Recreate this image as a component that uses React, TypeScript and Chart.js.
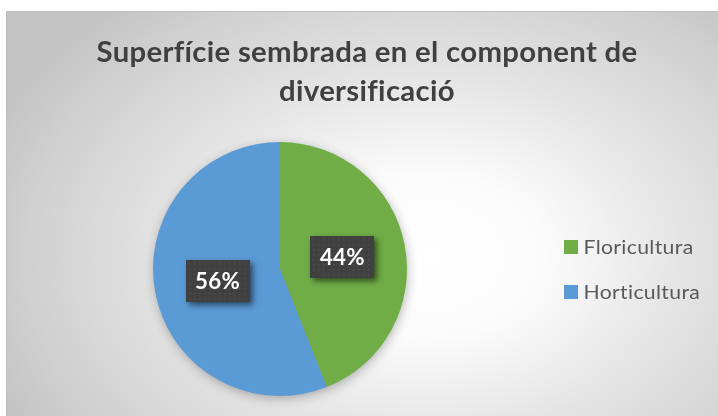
import React, { useEffect, useRef } from 'react';
import { Chart, registerables } from 'chart.js';

Chart.register(...registerables);

const TITLE_LINES = ['Superfície sembrada en el component de', 'diversificació'];
const CATEGORIES = ['Floricultura', 'Horticultura'];
const VALUES = [44, 56];
const COLORS = ['#70AD47', '#5B9BD5'];

const FONT = 'Lato, "Open Sans", "Liberation Sans", sans-serif';

function setFont(ctx: CanvasRenderingContext2D, weight: string, size: number) {
  ctx.font = `${weight} ${size}px ${FONT}`;
  try {
    (ctx as any).textRendering = 'optimizeSpeed';
    (ctx as any).letterSpacing = '0.3px';
  } catch (e) {}
}

function drawText(
  ctx: CanvasRenderingContext2D,
  text: string,
  x: number,
  y: number,
  weight: string,
  size: number,
  sx: number,
  align: CanvasTextAlign,
  baseline: CanvasTextBaseline
) {
  ctx.save();
  setFont(ctx, weight, size);
  ctx.textAlign = align;
  ctx.textBaseline = baseline;
  ctx.translate(x, y);
  ctx.scale(sx, 1);
  ctx.fillText(text, 0, 0);
  ctx.restore();
}

function scaleFor(ctx: CanvasRenderingContext2D, text: string, weight: string, size: number, target: number) {
  ctx.save();
  setFont(ctx, weight, size);
  const w = ctx.measureText(text).width;
  ctx.restore();
  return target / w;
}

const backgroundPlugin = {
  id: 'bgPlugin',
  beforeDraw(chart: any) {
    const ctx: CanvasRenderingContext2D = chart.ctx;
    const W = chart.width;
    const H = chart.height;
    ctx.save();
    ctx.fillStyle = '#ffffff';
    ctx.fillRect(0, 0, W, H);
    const cx = 420;
    const cy = 245;
    const rx = 470;
    const ry = 330;
    ctx.translate(cx, cy);
    ctx.scale(1, ry / rx);
    const g = ctx.createRadialGradient(0, 0, 0, 0, 0, rx);
    g.addColorStop(0, '#ffffff');
    g.addColorStop(0.25, '#fbfbfb');
    g.addColorStop(0.55, '#e4e4e4');
    g.addColorStop(0.85, '#d0d0d0');
    g.addColorStop(1, '#c4c4c4');
    ctx.fillStyle = g;
    ctx.fillRect(-cx - 10, -(cy + 10) * (rx / ry), W + 20, (H + 20) * (rx / ry));
    ctx.restore();
    ctx.save();
    ctx.strokeStyle = '#bdbdbd';
    ctx.lineWidth = 1;
    ctx.strokeRect(0.5, 0.5, W, H);
    ctx.restore();

    // title
    ctx.save();
    ctx.fillStyle = '#404040';
    const tSize = 28.5;
    const tsx = scaleFor(ctx, TITLE_LINES[0], 'bold', tSize, 541);
    drawText(ctx, TITLE_LINES[0], 361, 51, 'bold', tSize, tsx, 'center', 'alphabetic');
    drawText(ctx, TITLE_LINES[1], 361, 90, 'bold', tSize, tsx, 'center', 'alphabetic');
    ctx.restore();

    // legend
    ctx.save();
    const lSize = 19.5;
    const lsx = scaleFor(ctx, CATEGORIES[0], 'normal', lSize, 110);
    CATEGORIES.forEach((c, i) => {
      const y = 243 + i * 45;
      ctx.fillStyle = COLORS[i];
      ctx.fillRect(558, y - 14, 14, 14);
      ctx.fillStyle = '#595959';
      drawText(ctx, c, 577.5, y, 'normal', lSize, lsx, 'left', 'alphabetic');
    });
    ctx.restore();
  },
  beforeDatasetsDraw(chart: any) {
    const meta = chart.getDatasetMeta(0);
    const arc = meta.data[0];
    if (!arc) return;
    const ctx: CanvasRenderingContext2D = chart.ctx;
    ctx.save();
    ctx.shadowColor = 'rgba(0,0,0,0.3)';
    ctx.shadowBlur = 12;
    ctx.shadowOffsetX = 1;
    ctx.shadowOffsetY = 3;
    ctx.fillStyle = '#888888';
    ctx.beginPath();
    ctx.arc(arc.x, arc.y, arc.outerRadius - 1, 0, Math.PI * 2);
    ctx.fill();
    ctx.restore();
  },
  afterDatasetsDraw(chart: any) {
    const ctx: CanvasRenderingContext2D = chart.ctx;
    const meta = chart.getDatasetMeta(0);
    const data: number[] = chart.data.datasets[0].data;
    const total = data.reduce((a, b) => a + b, 0);
    const fSize = 22.5;
    const fsx = scaleFor(ctx, '44%', 'bold', fSize, 45);
    meta.data.forEach((el: any, i: number) => {
      const p = el.getCenterPoint();
      const text = Math.round((data[i] / total) * 100) + '%';
      const bw = 64;
      const bh = 42;
      const x = Math.round(p.x - bw / 2);
      const y = Math.round(p.y - bh / 2);
      ctx.save();
      ctx.shadowColor = 'rgba(0,0,0,0.55)';
      ctx.shadowBlur = 6;
      ctx.shadowOffsetX = 3;
      ctx.shadowOffsetY = 3;
      ctx.fillStyle = '#404040';
      ctx.fillRect(x, y, bw, bh);
      ctx.restore();
      ctx.save();
      ctx.fillStyle = 'rgba(255,255,255,0.07)';
      for (let yy = y + 3; yy < y + bh - 1; yy += 5) {
        for (let xx = x + 3; xx < x + bw - 1; xx += 5) {
          ctx.fillRect(xx, yy, 1.5, 1.5);
        }
      }
      ctx.fillStyle = '#ffffff';
      drawText(ctx, text, p.x, p.y + 1, 'bold', fSize, fsx, 'center', 'middle');
      ctx.restore();
    });
  },
};

export default function App() {
  const ref = useRef<HTMLCanvasElement | null>(null);
  useEffect(() => {
    if (!ref.current) return;
    const chart = new Chart(ref.current, {
      type: 'pie',
      data: {
        labels: CATEGORIES,
        datasets: [
          {
            data: VALUES,
            backgroundColor: COLORS,
            borderWidth: 0,
            hoverOffset: 0,
            offset: 0,
          },
        ],
      },
      options: {
        responsive: false,
        animation: false,
        devicePixelRatio: 1,
        layout: { padding: { left: 147, top: 131, right: 311, bottom: 20 } },
        plugins: {
          legend: { display: false },
          title: { display: false },
          tooltip: { enabled: false },
        },
        events: [],
      },
      plugins: [backgroundPlugin],
    });
    return () => chart.destroy();
  }, []);
  return (
    <div style={{ position: 'absolute', left: 6, top: 11, width: 712, height: 405 }}>
      <canvas ref={ref} width={712} height={405} style={{ display: 'block' }} />
    </div>
  );
}
